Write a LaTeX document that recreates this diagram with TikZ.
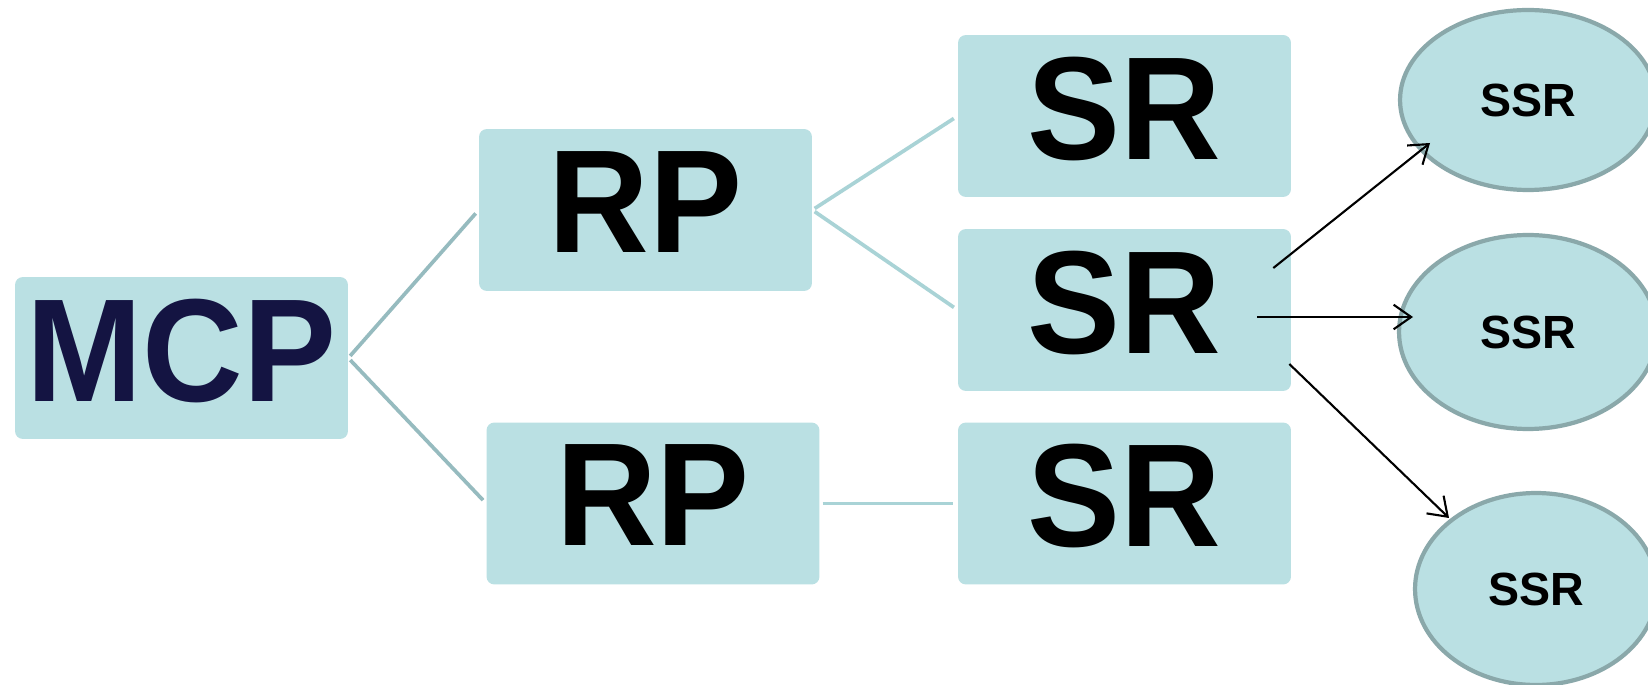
\documentclass[tikz,border=0pt]{standalone}
\usepackage{fontspec}
\setmainfont{Liberation Sans}
\newfontfamily\boxfont{Liberation Sans}[FakeStretch=0.95]
\usetikzlibrary{arrows.meta, calc, shapes.geometric}
\definecolor{boxfill}{HTML}{BAE0E3}
\definecolor{ovalrim}{HTML}{8AA8AA}
\definecolor{linkdark}{HTML}{96BBBF}
\definecolor{linklight}{HTML}{A9D3D6}
\definecolor{mcpblue}{HTML}{141442}
\tikzset{arr/.style={draw, -{Straight Barb[length=10pt,width=14pt]}, line width=1.2pt}}

\begin{document}
\begin{tikzpicture}[x=0.02cm, y=-0.02cm,
    box/.style={fill=boxfill, rounded corners=4.5pt, inner sep=0pt,
        minimum width=6.66cm, minimum height=3.24cm, text depth=0.32cm,
        font={\boxfont\fontsize{83.5}{84}\selectfont\bfseries}},
    ssr/.style={ellipse, draw=ovalrim, line width=2.4pt, fill=boxfill, inner sep=0pt,
        font={\fontsize{26.5}{28}\selectfont\bfseries}},
    link/.style={line width=2.1pt, shorten <=1.6pt, shorten >=2.6pt}]
    \useasboundingbox[fill=white] (0,0) rectangle (1648,685);

    % boxes
    \node[box, text=mcpblue] (MCP) at (181.5,358) {MCP};
    \node[box] (RP1) at (645.5,210) {RP};
    \node[box] (RP2) at (653,503.5) {RP};
    \node[box] (SR1) at (1124.5,116) {SR};
    \node[box] (SR2) at (1124.5,310) {SR};
    \node[box] (SR3) at (1124.5,503.5) {SR};

    % ovals, cut by the right edge
    \node[ssr, minimum width=5.12cm, minimum height=3.6cm] (SSR1) at (1528,100) {SSR};
    \node[ssr, minimum width=5.16cm, minimum height=3.88cm] (SSR2) at (1528,332) {SSR};
    \node[ssr, minimum width=4.84cm, minimum height=3.84cm] (SSR3) at (1536,589) {SSR};

    \draw[link, linkdark] (MCP.east) -- (RP1.west);
    \draw[link, linkdark] (MCP.east) -- (RP2.west);
    \draw[link, linklight] (RP1.east) -- (SR1.west);
    \draw[link, linklight] (RP1.east) -- (SR2.west);
    \draw[link, linklight] (RP2.east) -- (SR3.west);

    \draw[arr] ($(SR2.east)+(-18,-42)$) -- ($(SSR1.center)+(-98,43)$);
    \draw[arr] ($(SR2.east)+(-34,7)$) -- ($(SSR2.center)+(-115,-15)$);
    \draw[arr] ($(SR2.east)+(-2,54)$) -- ($(SSR3.center)+(-87,-71)$);
\end{tikzpicture}
\end{document}
